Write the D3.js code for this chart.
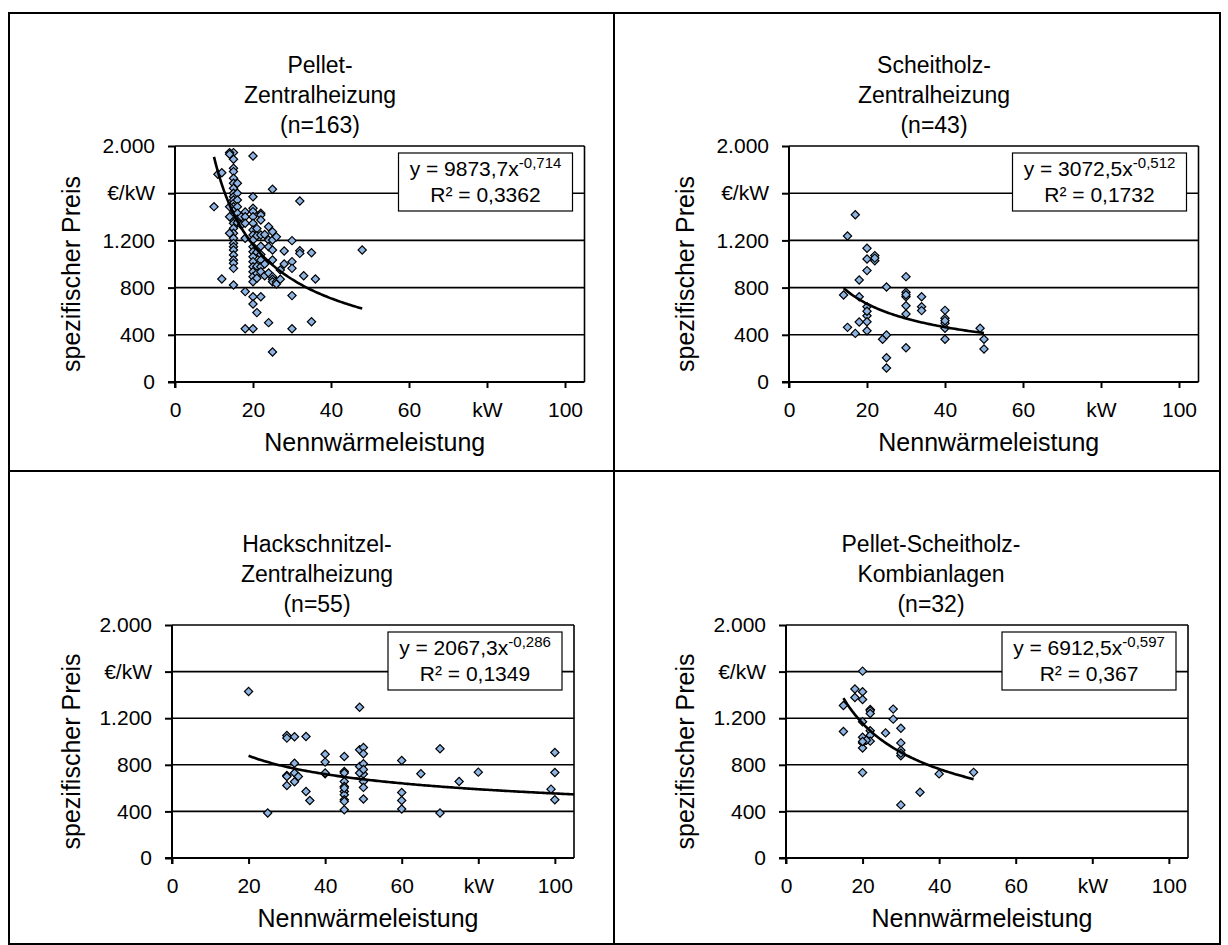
<!DOCTYPE html>
<html lang="de">
<head>
<meta charset="utf-8">
<script src="https://d3js.org/d3.v7.min.js"></script>
<style>
  body { margin: 0; background: #fff; }
  svg text { font-family: "Liberation Sans", Arial, sans-serif; fill: #000; }
</style>
</head>
<body>
<div id="chart"></div>
<script>
"use strict"
// === Daten ===
// [Nennwärmeleistung kW, spezifischer Preis €/kW]
const pelletDaten = [
  [15,1944],[15,1887],[15,1811],[15,1783],[15,1726],[15,1684],[15,1641],[15,1599],[15,1570],[15,1542],
  [15,1514],[15,1486],[15,1452],[15,1415],[15,1373],[15,1345],[15,1302],[15,1260],[15,1218],[15,1175],
  [15,1147],[15,1118],[15,1076],[15,1034],[15,1006],[15,963],[15,822],
  [14,1944],[14,1930],[14,1486],[14,1400],[14,1260],
  [16,1684],[16,1599],[16,1542],[16,1486],[16,1430],[16,1380],[16,1350],
  [17,1400],[17,1330],
  [18,1440],[18,1401],[18,1345],[18,1218],[18,766],[18,452],
  [10,1486],[11,1760],[12,1774],[12,873],
  [20,1915],[20,1570],[20,1472],[20,1444],[20,1401],[20,1345],[20,1288],[20,1246],[20,1204],[20,1147],
  [20,1104],[20,1062],[20,1020],[20,977],[20,935],[20,893],[20,850],[20,723],[20,661],[20,452],
  [21,1300],[21,1240],[21,1100],[21,980],[21,920],[21,880],[21,588],
  [22,1430],[22,1415],[22,1373],[22,1246],[22,1150],[22,1080],[22,1034],[22,977],[22,935],[22,723],
  [23,1250],[23,1000],[23,900],
  [24,1316],[24,1204],[24,1147],[24,924],[24,503],
  [25,1633],[25,1274],[25,1204],[25,1118],[25,1034],[25,893],[25,870],[25,850],[25,254],
  [26,1230],[26,850],[26,830],[27,950],[27,870],[28,1110],[28,1000],
  [30,1198],[30,1020],[30,963],[30,732],[30,452],
  [32,1534],[32,1113],[32,1090],[33,901],[35,1096],[36,873],[35,511],[48,1119]
];
const scheitholzDaten = [
  [17,1418],[15,1237],[20,1133],[20,1042],[22,1071],[22,1028],[20,944],[18,864],[25,805],[14,737],
  [18,723],[20,638],[20,562],[20,511],[20,435],[18,508],[15,463],[17,412],[24,362],[25,398],
  [25,206],[25,119],[30,893],[30,760],[30,723],[30,647],[30,576],[30,291],[34,723],[34,638],
  [34,605],[40,607],[40,540],[40,497],[40,455],[40,362],[49,455],[50,362],[50,280],
  [30,740],[40,520],[22,1050],[20,600]
];
const hackschnitzelDaten = [
  [20,1429],[25,386],[30,1051],[30,1029],[32,1040],[35,1043],[30,709],[30,623],[32,814],[32,729],
  [32,654],[33,700],[35,571],[36,494],[40,891],[40,823],[40,723],[45,871],[45,743],[45,657],
  [45,614],[45,571],[45,543],[45,500],[45,414],[45,729],[49,1294],[49,929],[50,949],[50,894],
  [49,786],[50,809],[50,720],[50,657],[50,606],[50,506],[49,729],[60,837],[60,563],[60,494],
  [60,420],[65,723],[70,937],[70,386],[75,657],[80,737],[99,591],[100,906],[100,734],[100,500],
  [45,486],[45,600],[30,700],[40,730],[50,760]
];
const kombiDaten = [
  [20,1604],[18,1450],[20,1427],[18,1378],[20,1361],[15,1309],[22,1275],[22,1263],[28,1278],[28,1192],
  [30,1114],[20,1169],[15,1086],[22,1092],[26,1074],[20,1037],[22,1054],[20,988],[22,1003],[20,945],
  [30,988],[30,925],[30,877],[20,733],[40,722],[35,564],[30,456],[49,735],
  [21,1010],[22,1240],[30,900],[20,1000]
];

const titel = [
  ["Pellet-", "Zentralheizung", "(n=163)"],
  ["Scheitholz-", "Zentralheizung", "(n=43)"],
  ["Hackschnitzel-", "Zentralheizung", "(n=55)"],
  ["Pellet-Scheitholz-", "Kombianlagen", "(n=32)"]
];
// Trendlinie y = a * x^b
const trendA = [9873.7, 3072.5, 2067.3, 6912.5];
const trendB = [-0.714, -0.512, -0.286, -0.597];
const trendVon = [10, 14, 20, 15];
const trendBis = [48, 50, 105, 49];
const formelA = ["9873,7", "3072,5", "2067,3", "6912,5"];
const formelB = ["-0,714", "-0,512", "-0,286", "-0,597"];
const formelR2 = ["0,3362", "0,1732", "0,1349", "0,367"];

const yTicks = [0, 400, 800, 1200, 1600, 2000];
const yTickTexte = ["0", "400", "800", "1.200", "€/kW", "2.000"];
const xTicks = [0, 20, 40, 60, 80, 100];
const xTickTexte = ["0", "20", "40", "60", "kW", "100"];

const alleDaten = [pelletDaten, scheitholzDaten, hackschnitzelDaten, kombiDaten];

// === Layout ===
var larguraSVG = 1228, alturaSVG = 945;
var zeilen = [
  {x: 175, y: 146, w: 409.5, h: 236, titelX: 320},
  {x: 172, y: 625, w: 402, h: 233, titelX: 317}
];

var svg = d3.select('#chart').append('svg')
  .attr('width', larguraSVG)
  .attr('height', alturaSVG);

// Rahmen
svg.append('rect')
  .attr('x', 9).attr('y', 13).attr('width', 1211).attr('height', 931)
  .attr('fill', 'none').attr('stroke', '#000').attr('stroke-width', 2);
svg.append('line').attr('x1', 614).attr('x2', 614).attr('y1', 13).attr('y2', 944)
  .attr('stroke', '#000').attr('stroke-width', 2);
svg.append('line').attr('x1', 9).attr('x2', 1220).attr('y1', 471).attr('y2', 471)
  .attr('stroke', '#000').attr('stroke-width', 2);

var symbol = d3.symbol().type(d3.symbolSquare).size(34);

alleDaten.forEach(function (daten, i) {
  var z = zeilen[Math.floor(i / 2)];
  var ox = (i % 2) * 614;
  var g = svg.append('g').attr('transform', 'translate(' + ox + ',0)');

  var x = d3.scaleLinear().domain([0, 105]).range([z.x, z.x + z.w]);
  var y = d3.scaleLinear().domain([0, 2000]).range([z.y + z.h, z.y]);

  // Titel
  titel[i].forEach(function (t, k) {
    g.append('text')
      .attr('x', z.titelX)
      .attr('y', z.y - 73 + k * 30)
      .attr('text-anchor', 'middle')
      .style('font-size', '23px')
      .text(t);
  });

  // Gitterlinien
  g.append('g').selectAll('line')
    .data(yTicks.filter(d => d > 0))
    .enter().append('line')
      .attr('x1', x(0)).attr('x2', x(105))
      .attr('y1', d => y(d)).attr('y2', d => y(d))
      .attr('stroke', '#000').attr('stroke-width', 1.6);

  // Rand rechts
  g.append('line')
    .attr('x1', x(105)).attr('x2', x(105))
    .attr('y1', y(2000)).attr('y2', y(0))
    .attr('stroke', '#000').attr('stroke-width', 1.6);

  // Achsen
  var yAchse = g.append('g')
    .attr('transform', 'translate(' + x(0) + ',0)')
    .call(d3.axisLeft(y).tickValues(yTicks).tickSize(7).tickPadding(13)
      .tickFormat((d, k) => yTickTexte[k]));
  var xAchse = g.append('g')
    .attr('transform', 'translate(0,' + y(0) + ')')
    .call(d3.axisBottom(x).tickValues(xTicks).tickSize(6).tickPadding(14)
      .tickFormat((d, k) => xTickTexte[k]));
  [yAchse, xAchse].forEach(function (a) {
    a.select('.domain').attr('stroke', '#000').attr('stroke-width', 2);
    a.selectAll('.tick line').attr('stroke', '#000').attr('stroke-width', 2);
    a.selectAll('.tick text').style('font-size', '21px').attr('fill', '#000');
  });
  yAchse.select('.domain').attr('d', 'M0,' + y(2000) + 'V' + (y(0) + 6));
  xAchse.select('.domain').attr('d', 'M' + (x(0) - 7) + ',0H' + x(105));

  // Achsentitel
  g.append('text')
    .attr('transform', 'translate(80,' + (z.y + z.h / 2 + 10) + ') rotate(-90)')
    .attr('text-anchor', 'middle')
    .style('font-size', '25px')
    .text('spezifischer Preis');
  g.append('text')
    .attr('x', z.x + z.w / 2 - 5)
    .attr('y', z.y + z.h + 69)
    .attr('text-anchor', 'middle')
    .style('font-size', '25px')
    .text('Nennwärmeleistung');

  // Punkte
  g.append('g').selectAll('path')
    .data(daten)
    .enter().append('path')
      .attr('d', symbol)
      .attr('transform', d => 'translate(' + x(d[0]) + ',' + y(d[1]) + ') rotate(45)')
      .attr('fill', '#8db4e2')
      .attr('stroke', '#000')
      .attr('stroke-width', 1.2);

  // Trendlinie (Potenz)
  var xs = d3.range(trendVon[i], trendBis[i] + 0.01, 0.5);
  var linie = d3.line()
    .x(d => x(d))
    .y(d => y(trendA[i] * Math.pow(d, trendB[i])));
  g.append('path')
    .datum(xs.filter(d => d <= 105))
    .attr('d', linie)
    .attr('fill', 'none')
    .attr('stroke', '#000')
    .attr('stroke-width', 2.6);

  // Formelbox
  var bw = 174, bh = 58;
  var bx = x(105) - 12 - bw, by = z.y + 7;
  g.append('rect')
    .attr('x', bx).attr('y', by).attr('width', bw).attr('height', bh)
    .attr('fill', '#fff').attr('stroke', '#000').attr('stroke-width', 1.2);
  var f1 = g.append('text')
    .attr('x', bx + bw / 2).attr('y', by + 23)
    .attr('text-anchor', 'middle')
    .style('font-size', '21px');
  f1.append('tspan').text('y = ' + formelA[i] + 'x');
  f1.append('tspan').attr('dy', -8).style('font-size', '15px').text(formelB[i]);
  g.append('text')
    .attr('x', bx + bw / 2).attr('y', by + 49)
    .attr('text-anchor', 'middle')
    .style('font-size', '21px')
    .text('R² = ' + formelR2[i]);
});
</script>
</body>
</html>
